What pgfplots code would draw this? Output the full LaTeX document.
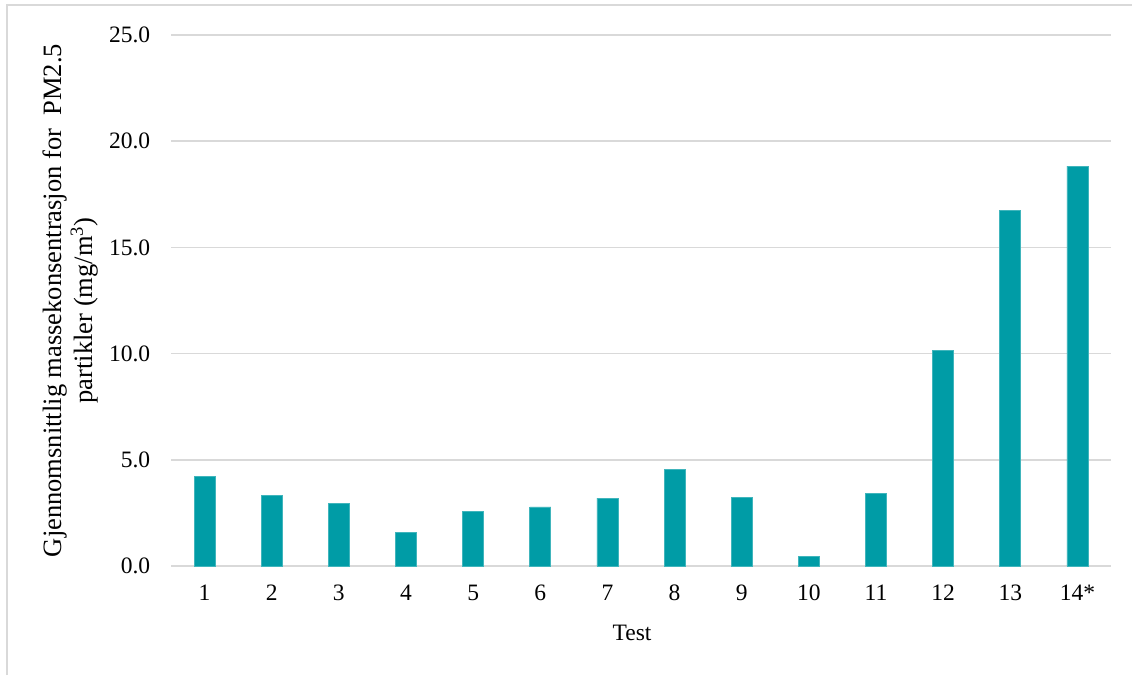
\documentclass[border=0pt]{standalone}
\usepackage{fontspec}
\setmainfont{Liberation Serif}
\usepackage{pgfplots}
\pgfplotsset{compat=1.18}
\definecolor{barc}{RGB}{0,156,166}
\definecolor{gridc}{RGB}{217,217,217}
\begin{document}
\fontsize{23}{27}\selectfont
\begin{tikzpicture}
\useasboundingbox (0,0) rectangle (1132pt,675pt);
\draw[gridc, line width=2pt] (7pt,0) -- (7pt,670pt) -- (1132pt,670pt);
\begin{axis}[
  at={(171pt,109pt)}, anchor=south west,
  scale only axis, width=940pt, height=531pt,
  xmin=0.5, xmax=14.5, ymin=0, ymax=25,
  ytick={0,5,10,15,20,25},
  xtick={1,...,14},
  xticklabels={1,2,3,4,5,6,7,8,9,10,11,12,13,14*},
  ymajorgrids, grid style={gridc, line width=1.5pt},
  axis x line*=bottom, axis y line*=left,
  x axis line style={gridc, line width=1.5pt, -},
  y axis line style={draw=none},
  major tick length=0pt,
  yticklabel style={xshift=-13pt},
  xticklabel style={yshift=-11pt},
  /pgf/number format/.cd, fixed, fixed zerofill, precision=1, assume math mode=true,
  /pgfplots/.cd,
  ticklabel style={font=\fontsize{23.5}{27}\selectfont},
  xlabel={Test},
  xlabel style={at={(axis description cs:0.5,0)}, anchor=base, yshift=-74pt, xshift=-9pt, font=\fontsize{23.5}{27}\selectfont},
  ylabel={Gjennomsnittlig massekonsentrasjon for\ \ PM2.5\\partikler (mg/m\textsuperscript{3})\hspace*{20pt}},
  ylabel style={at={(axis description cs:-0.1074,0.5)}, anchor=center, align=center, font=\fontsize{26.5}{31}\selectfont},
  clip=false,
]
\addplot[ybar, bar width=21pt, fill=barc, draw=barc!75!white, line width=0.6pt] coordinates {
(1,4.20) (2,3.33) (3,2.95) (4,1.60) (5,2.57) (6,2.78) (7,3.20) (8,4.53) (9,3.23) (10,0.47) (11,3.42) (12,10.14) (13,16.76) (14,18.83)
};
\end{axis}
\end{tikzpicture}
\end{document}
